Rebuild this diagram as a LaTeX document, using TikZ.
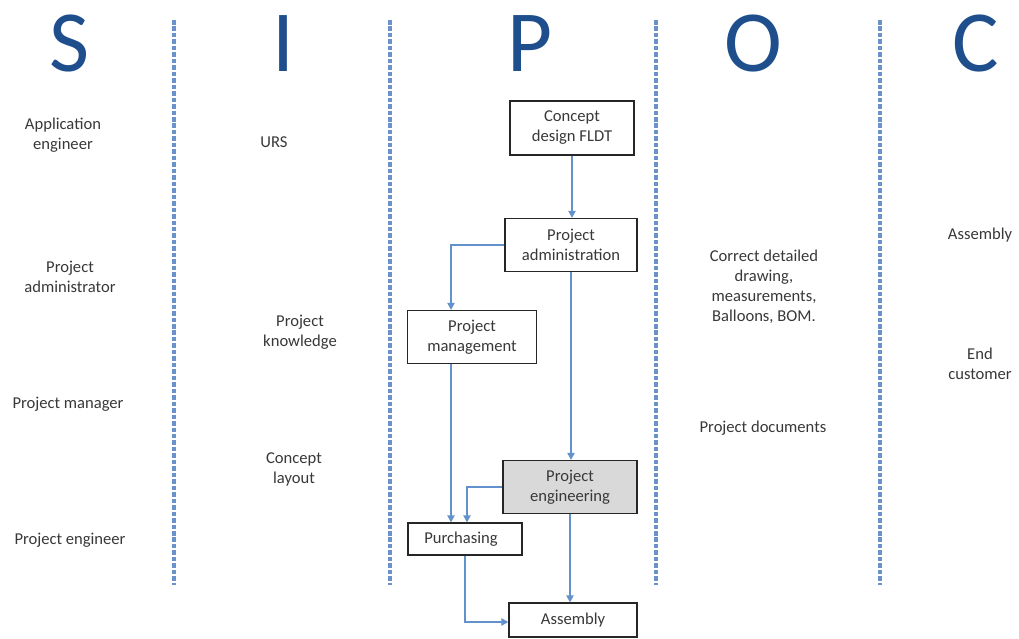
\documentclass[tikz,border=0pt]{standalone}
\usepackage{fontspec}
\setmainfont{Carlito}
\usetikzlibrary{arrows.meta,positioning,calc}
\definecolor{sipocblue}{HTML}{1F4E8C}
\definecolor{laneblue}{HTML}{6A93CB}
\definecolor{flowblue}{HTML}{6291CB}
\definecolor{boxgray}{HTML}{D9D9D9}
\tikzset{
  >={Triangle[length=5pt,width=5.2pt]},
  letter/.style={anchor=base, text=sipocblue, inner sep=0pt, font=\fontsize{62}{62}\selectfont},
  lane/.style={draw=laneblue, line width=2.6pt, dash pattern=on 3.2pt off 1.4pt},
  lbl/.style={align=center, font=\fontsize{11.8}{14.2}\selectfont, text=black!78},
  proc/.style={rectangle, draw=black!85, line width=0.85pt, fill=white, align=center, inner sep=0pt, font=\fontsize{11.8}{14.2}\selectfont, text=black!78},
  flow/.style={->, draw=flowblue, line width=0.9pt}
}
\begin{document}
\begin{tikzpicture}[x=0.025cm, y=-0.025cm]
    \useasboundingbox (0,0) rectangle (1019,638);

    % Headings
    \node[letter] (lS) at (70,71) {S};
    \node[letter] (lI) at (283,71) {I};
    \node[letter] (lP) at (530,71) {P};
    \node[letter] (lO) at (753,71) {O};
    \node[letter] (lC) at (976,71) {C};

    % Lanes
    \foreach \x in {174,390,656,880} {
        \draw[lane] (\x,20) -- (\x,585);
    }

    % Suppliers
    \node[lbl] (sup1) at (63,135) {Application\\engineer};
    \node[lbl] (sup2) at (70,277) {Project\\administrator};
    \node[lbl] (sup3) at (68,404) {Project manager};
    \node[lbl] (sup4) at (70,540) {Project engineer};

    % Inputs
    \node[lbl] (in1) at (274,142) {URS};
    \node[lbl] (in2) at (300,332) {Project\\knowledge};
    \node[lbl] (in3) at (294,469) {Concept\\layout};

    % Process
    \node[proc, minimum width=3.1cm, minimum height=1.35cm] (cdf) at (572,128) {Concept\\design FLDT};
    \node[proc, minimum width=3.3cm, minimum height=1.325cm] (adm) at (571,245) {Project\\administration};
    \node[proc, minimum width=3.225cm, minimum height=1.325cm] (mgmt) at (472,337) {Project\\management};
    \node[proc, minimum width=3.35cm, minimum height=1.325cm, fill=boxgray] (eng) at (570,487) {Project\\engineering};
    \node[proc, minimum width=2.85cm, minimum height=0.8cm] (purch) at (465,539) {Purchasing\hspace{0.2cm}};
    \node[proc, minimum width=3.2cm, minimum height=0.85cm] (asm) at (573,620) {Assembly};

    % Outputs
    \node[lbl] (out1) at (764,287) {Correct detailed\\drawing,\\measurements,\\Balloons, BOM.};
    \node[lbl] (out2) at (763,428) {Project documents};

    % Customers
    \node[lbl] (cus1) at (980,235) {Assembly};
    \node[lbl] (cus2) at (980,364) {End\\customer};

    % Flow
    \coordinate (mgmtin) at ($(mgmt.north)+(-21,0)$);
    \coordinate (mgmtout) at ($(mgmt.south)+(-21,0)$);
    \coordinate (engin) at ($(purch.north)+(2,0)$);
    \draw[flow] (cdf.south) -- (cdf.south |- adm.north);
    \draw[flow] (adm.west) -| (mgmtin);
    \draw[flow] (adm.south) -- (adm.south |- eng.north);
    \draw[flow] (mgmtout) -- (mgmtout |- purch.north);
    \draw[flow] (eng.west) -| (engin);
    \draw[flow] (eng.south) -- (eng.south |- asm.north);
    \draw[flow] (purch.south) |- ($(asm.west)+(0,2)$);

\end{tikzpicture}
\end{document}
